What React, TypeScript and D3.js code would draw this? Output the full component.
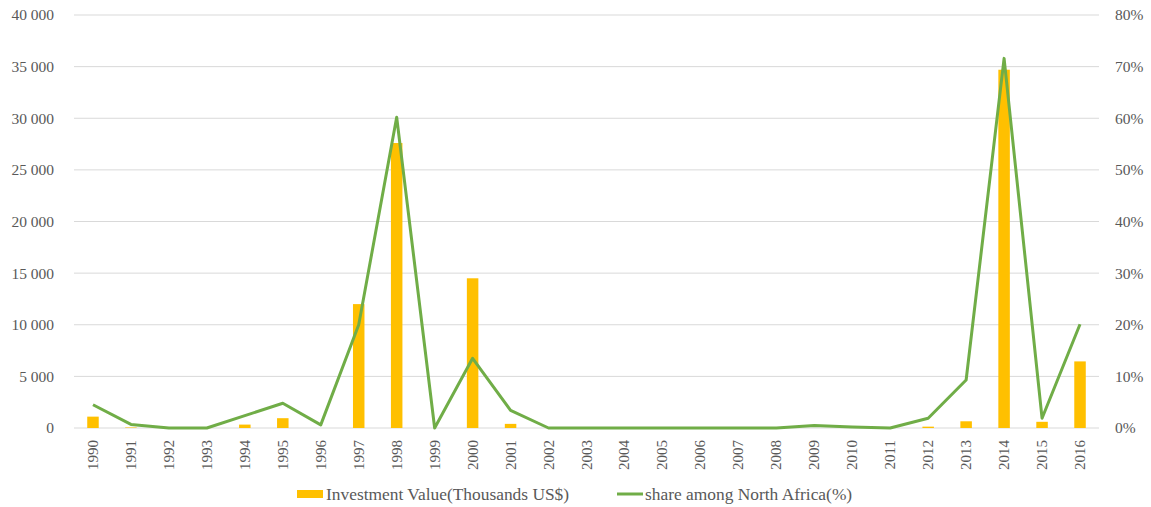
import React from "react";
import * as d3 from "d3";

const years = ["1990","1991","1992","1993","1994","1995","1996","1997","1998","1999","2000","2001","2002","2003","2004","2005","2006","2007","2008","2009","2010","2011","2012","2013","2014","2015","2016"];
const investment = [1100, 50, 0, 0, 330, 950, 0, 12000, 27600, 0, 14500, 400, 0, 0, 0, 0, 0, 0, 0, 0, 0, 0, 130, 650, 34700, 600, 6450];
const share = [4.5, 0.7, 0, 0, 2.4, 4.8, 0.6, 20, 60.2, 0, 13.5, 3.4, 0, 0, 0, 0, 0, 0, 0, 0.5, 0.2, 0, 1.9, 9.3, 71.6, 1.9, 20.1];
const leftTicks = [0, 5000, 10000, 15000, 20000, 25000, 30000, 35000, 40000];
const rightTicks = [0, 10, 20, 30, 40, 50, 60, 70, 80];
const seriesNames = ["Investment Value(Thousands US$)", "share among North Africa(%)"];

const W = 1151, H = 507;
const M = { left: 74, right: 1099, top: 15, bottom: 428 };
const FONT = "'Palatino Linotype', 'Book Antiqua', Palatino, 'Liberation Serif', serif";
const TXT = "#595959";

export default function App() {
  const x = d3.scaleBand().domain(years).range([M.left, M.right]).padding(0);
  const yL = d3.scaleLinear().domain([0, 40000]).range([M.bottom, M.top]);
  const yR = d3.scaleLinear().domain([0, 80]).range([M.bottom, M.top]);
  const fmt = (v: number) => d3.format(",")(v).replace(/,/g, " ");
  const cx = (y: string) => (x(y) as number) + x.bandwidth() / 2;
  const barW = 11.5;
  const line = d3.line<number>().x((_, i) => cx(years[i])).y((d) => yR(d));

  return (
    <svg width={W} height={H} style={{ position: "absolute", left: 0, top: 0, background: "#fff" }} fontFamily={FONT}>
      {leftTicks.map((t) => (
        <g key={t}>
          <line x1={M.left} x2={M.right} y1={yL(t)} y2={yL(t)} stroke="#d9d9d9" strokeWidth={1} />
          <text x={54} y={yL(t)} dy="0.35em" textAnchor="end" fontSize={15.5} fill={TXT}>{fmt(t)}</text>
        </g>
      ))}
      {rightTicks.map((t) => (
        <text key={t} x={1115} y={yR(t)} dy="0.35em" textAnchor="start" fontSize={15.5} fill={TXT}>{t}%</text>
      ))}
      {years.map((y) => (
        <text key={y} transform={`translate(${cx(y) + 5},${440}) rotate(-90)`} textAnchor="end" fontSize={15} fill={TXT}>{y}</text>
      ))}
      {investment.map((v, i) => (
        <rect key={years[i]} x={cx(years[i]) - barW / 2} y={yL(v)} width={barW} height={M.bottom - yL(v)} fill="#FFC000" />
      ))}
      <path d={line(share) || ""} fill="none" stroke="#70AD47" strokeWidth={3} strokeLinejoin="round" />
      <g>
        <rect x={297} y={490} width={26} height={8} fill="#FFC000" />
        <text x={326} y={494} dy="0.35em" fontSize={17.4} fill={TXT}>{seriesNames[0]}</text>
        <line x1={617} x2={643} y1={494} y2={494} stroke="#70AD47" strokeWidth={3} />
        <text x={645} y={494} dy="0.35em" fontSize={17.4} fill={TXT}>{seriesNames[1]}</text>
      </g>
    </svg>
  );
}
